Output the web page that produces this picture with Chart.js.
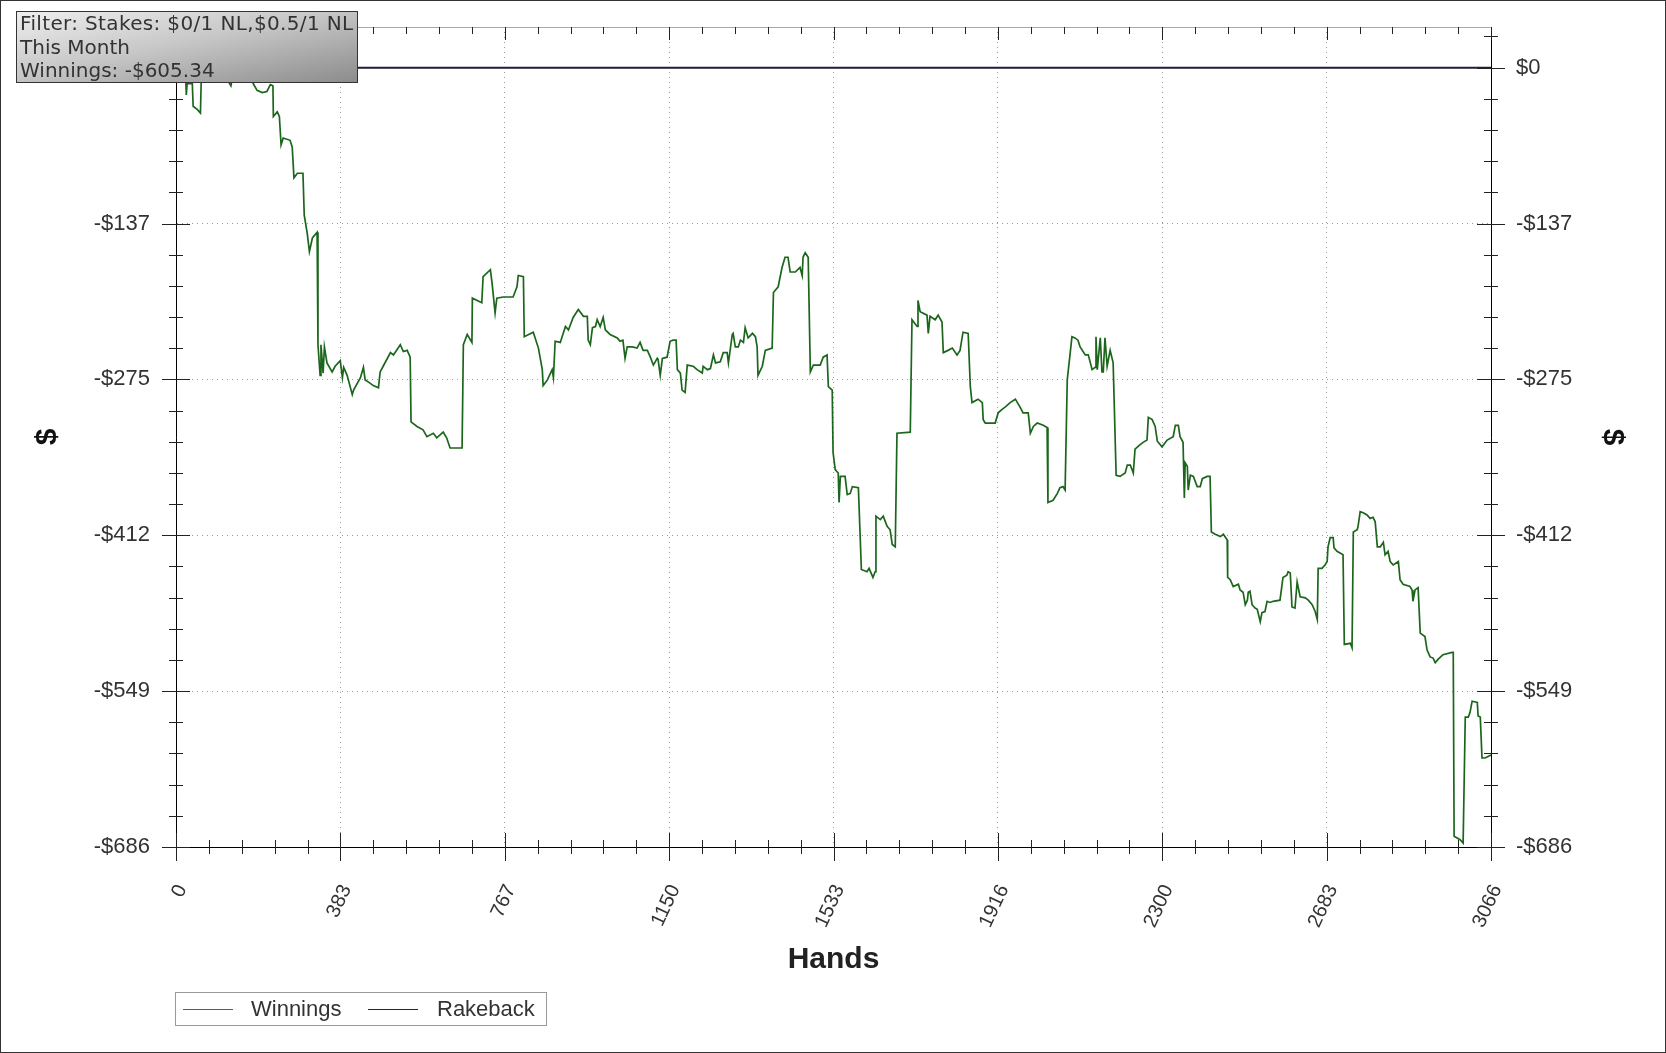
<!DOCTYPE html>
<html lang="en">
<head>
    <meta charset="UTF-8">
    <title>Winnings Graph</title>
    <script src="https://cdn.jsdelivr.net/npm/chart.js"></script>
    <style>
        body { margin: 0; background: #fff; }
        #wrap { position: relative; width: 1666px; height: 1053px; border: 1px solid #333; box-sizing: border-box; background: #fff; }
        #graph { position: absolute; left: 0; top: 0; }
        #info {
            position: absolute; left: 15px; top: 10px; width: 342px; height: 72px; box-sizing: border-box;
            border: 1px solid #333; padding: 0 0 0 3px;
            background: linear-gradient(to bottom right, #eeeeee 0%, #c8c8c8 45%, #8c8c8c 100%);
            font: 20px "DejaVu Sans", sans-serif; line-height: 23.5px; color: #333; white-space: nowrap;
        }
        #info .wide { letter-spacing: 0.35px; }
        #legend {
            position: absolute; left: 174px; top: 991px; width: 372px; height: 34px; box-sizing: border-box;
            border: 1px solid #999; font: 22px "Liberation Sans", Arial, sans-serif; color: #333;
        }
        #legend span { position: absolute; top: 3px; }
        #legend i { position: absolute; top: 16px; height: 0; border-top: 1.5px solid; width: 50px; }
    </style>
</head>
<body>
<div id="wrap">
    <canvas id="graph" width="1664" height="1051"></canvas>
    <div id="info"><span class="wide">Filter: Stakes: $0/1 NL,$0.5/1 NL</span><br>This Month<br>Winnings: -$605.34</div>
    <div id="legend">
        <i style="left:7px;border-color:#2f7a2f"></i><span style="left:75px">Winnings</span>
        <i style="left:192px;border-color:#1c1c6e"></i><span style="left:261px">Rakeback</span>
    </div>
</div>
<script>
// hand numbers and cumulative winnings ($)
const hands = [
    0, 20, 23, 24, 26, 38, 40, 50, 57, 59,
    80, 100, 122, 128, 131, 150, 175, 180, 189, 201,
    212, 220, 226, 227, 236, 241, 245, 250, 266, 271,
    275, 283, 296, 299, 306, 311, 318, 329, 331, 336,
    338, 343, 346, 352, 364, 371, 383, 388, 391, 399,
    411, 414, 430, 437, 441, 449, 460, 472, 476, 483,
    500, 507, 523, 530, 539, 546, 548, 562, 576, 585,
    600, 608, 623, 631, 639, 667, 670, 679, 690, 691,
    713, 716, 733, 737, 744, 748, 763, 786, 795, 798,
    810, 812, 833, 845, 854, 856, 866, 877, 880, 884,
    896, 908, 915, 926, 938, 950, 959, 961, 966, 971,
    978, 982, 989, 996, 1001, 1012, 1029, 1035, 1042, 1047,
    1052, 1064, 1075, 1082, 1089, 1099, 1106, 1113, 1122, 1124,
    1129, 1134, 1145, 1152, 1159, 1166, 1169, 1176, 1180, 1187,
    1192, 1206, 1215, 1227, 1229, 1239, 1246, 1253, 1258, 1269,
    1276, 1285, 1288, 1297, 1299, 1304, 1311, 1316, 1323, 1327,
    1334, 1344, 1351, 1355, 1357, 1367, 1374, 1390, 1393, 1404,
    1413, 1420, 1427, 1432, 1444, 1455, 1460, 1462, 1467, 1474,
    1479, 1486, 1502, 1509, 1518, 1521, 1530, 1532, 1537, 1544,
    1546, 1549, 1560, 1565, 1572, 1577, 1591, 1598, 1611, 1616,
    1625, 1630, 1632, 1642, 1649, 1658, 1665, 1670, 1677, 1681,
    1712, 1716, 1728, 1730, 1735, 1751, 1754, 1758, 1770, 1777,
    1786, 1789, 1800, 1810, 1821, 1828, 1835, 1847, 1852, 1856,
    1870, 1880, 1882, 1887, 1910, 1917, 1926, 1933, 1945, 1957,
    1968, 1975, 1987, 1992, 1999, 2008, 2022, 2031, 2033, 2045,
    2055, 2061, 2068, 2073, 2078, 2089, 2096, 2103, 2108, 2120,
    2127, 2136, 2143, 2145, 2148, 2155, 2159, 2162, 2166, 2171,
    2178, 2185, 2192, 2201, 2213, 2218, 2225, 2232, 2236, 2248,
    2255, 2264, 2267, 2276, 2283, 2288, 2299, 2311, 2325, 2330,
    2337, 2341, 2348, 2351, 2353, 2358, 2360, 2365, 2372, 2381,
    2388, 2393, 2404, 2411, 2414, 2423, 2435, 2442, 2451, 2452,
    2458, 2465, 2477, 2481, 2488, 2493, 2498, 2500, 2504, 2509,
    2516, 2521, 2528, 2532, 2539, 2544, 2551, 2558, 2574, 2581,
    2590, 2593, 2598, 2602, 2609, 2614, 2621, 2633, 2640, 2649,
    2656, 2661, 2663, 2672, 2679, 2684, 2686, 2691, 2698, 2700,
    2707, 2721, 2724, 2738, 2742, 2745, 2754, 2756, 2761, 2768,
    2777, 2784, 2791, 2796, 2801, 2808, 2815, 2819, 2826, 2831,
    2838, 2850, 2854, 2861, 2877, 2882, 2884, 2889, 2896, 2901,
    2912, 2917, 2924, 2931, 2936, 2943, 2954, 2975, 2978, 2980,
    2994, 3001, 3006, 3013, 3017, 3022, 3034, 3036, 3041, 3045,
    3052, 3066
];
const winnings = [
    -8, -8, -12, -24, -14, -14, -34, -37, -40, -8,
    -4, -6, -12, -16, -10, -6, -8, -14, -20, -22,
    -21, -15, -16, -43, -39, -43, -68, -62, -64, -70,
    -97, -93, -93, -130, -146, -162, -150, -145, -244, -271,
    -244, -269, -246, -260, -268, -263, -258, -273, -264, -271,
    -288, -284, -273, -264, -275, -277, -280, -282, -268, -263,
    -251, -253, -244, -250, -249, -255, -312, -316, -319, -325,
    -322, -326, -321, -326, -335, -335, -244, -235, -242, -203,
    -207, -184, -178, -190, -216, -203, -202, -202, -193, -183,
    -184, -237, -233, -247, -266, -280, -275, -266, -273, -241,
    -242, -228, -231, -220, -213, -219, -219, -240, -244, -229,
    -228, -222, -228, -220, -231, -235, -238, -241, -240, -256,
    -246, -246, -247, -242, -249, -249, -255, -262, -256, -257,
    -271, -256, -255, -241, -240, -240, -266, -269, -284, -286,
    -262, -263, -266, -269, -263, -266, -265, -253, -260, -259,
    -251, -251, -260, -235, -234, -246, -246, -240, -242, -229,
    -238, -234, -237, -246, -271, -263, -249, -247, -198, -193,
    -176, -167, -167, -180, -180, -176, -183, -167, -163, -167,
    -268, -262, -262, -255, -253, -281, -284, -339, -354, -357,
    -383, -360, -360, -376, -375, -369, -370, -442, -444, -441,
    -449, -444, -395, -398, -395, -404, -407, -420, -422, -322,
    -321, -222, -228, -205, -215, -218, -234, -219, -222, -218,
    -224, -251, -249, -247, -253, -249, -233, -234, -281, -295,
    -292, -295, -310, -313, -313, -304, -301, -299, -295, -292,
    -299, -304, -304, -322, -316, -313, -315, -317, -383, -381,
    -375, -370, -369, -372, -275, -237, -238, -240, -246, -253,
    -253, -266, -264, -237, -266, -238, -268, -268, -238, -263,
    -249, -260, -359, -360, -357, -350, -350, -357, -336, -332,
    -330, -328, -308, -310, -316, -329, -334, -328, -325, -315,
    -315, -325, -330, -379, -348, -351, -372, -359, -360, -369,
    -369, -362, -360, -360, -409, -411, -413, -411, -416, -449,
    -451, -457, -455, -460, -462, -473, -469, -462, -461, -473,
    -476, -477, -488, -480, -479, -470, -471, -470, -469, -449,
    -447, -444, -445, -475, -476, -453, -466, -467, -469, -473,
    -479, -486, -441, -441, -438, -435, -422, -414, -414, -423,
    -426, -429, -508, -507, -511, -409, -407, -404, -391, -392,
    -394, -397, -396, -400, -422, -422, -418, -429, -426, -435,
    -438, -435, -451, -455, -457, -460, -470, -460, -458, -498,
    -501, -513, -519, -520, -524, -521, -517, -515, -515, -677,
    -680, -683, -572, -572, -568, -558, -559, -571, -572, -608,
    -608, -605.34
];
// rakeback stays at zero for the whole month
const rakebackHands = [0, 3066];
const rakeback = [0, 0];

// axis ticks
const xTickValues = [0, 383.25, 766.5, 1149.75, 1533, 1916.25, 2299.5, 2682.75, 3066];
const xTickLabels = ['0', '383', '767', '1150', '1533', '1916', '2300', '2683', '3066'];
const yTickValues = [0, -137.28, -274.56, -411.84, -549.12, -686.4];
const yTickLabels = ['$0', '-$137', '-$275', '-$412', '-$549', '-$686'];

const xMin = 0, xMax = 3066, yMin = -686.4, yMax = 35.8;
const TEXT = '#333';

function setY(scale) {
    scale.ticks = yTickValues.map(v => ({ value: v }));
}
// fixed box sizes, no extra label padding pushed into the layout
function fixBox(size) {
    return s => {
        if (s.isHorizontal()) s.height = size; else s.width = size;
        s.paddingTop = s.paddingBottom = s.paddingLeft = s.paddingRight = 0;
    };
}

// tick marks (major + 4 minor) crossing the axes, and the grey top border
const tickMarks = {
    id: 'tickMarks',
    afterDraw(chart) {
        const ctx = chart.ctx;
        const a = chart.chartArea;
        const xs = chart.scales.x, ys = chart.scales.y;
        ctx.save();
        ctx.lineWidth = 1;
        ctx.strokeStyle = '#aaa';
        ctx.beginPath();
        ctx.moveTo(a.left, a.top + 0.5);
        ctx.lineTo(a.right, a.top + 0.5);
        ctx.stroke();
        ctx.strokeStyle = '#222';
        ctx.beginPath();
        for (let i = 0; i <= 40; i++) {
            const px = Math.round(xs.getPixelForValue(i * 383.25 / 5)) + 0.5;
            const len = i % 5 === 0 ? 14 : 7;
            ctx.moveTo(px, a.bottom - len);
            ctx.lineTo(px, a.bottom + len);
            ctx.moveTo(px, a.top);
            ctx.lineTo(px, a.top + (i % 5 === 0 ? 13 : 7));
        }
        for (let k = -25; k <= 1; k++) {
            const py = Math.round(ys.getPixelForValue(k * 137.28 / 5)) + 0.5;
            const len = k % 5 === 0 ? 14 : 7;
            ctx.moveTo(a.left - len, py);
            ctx.lineTo(a.left + len, py);
            ctx.moveTo(a.right - len, py);
            ctx.lineTo(a.right + len, py);
        }
        ctx.stroke();
        ctx.restore();
    }
};

const ctx = document.getElementById('graph').getContext('2d');
new Chart(ctx, {
    type: 'line',
    data: {
        datasets: [
            {
                label: 'Rakeback',
                data: rakebackHands.map((h, i) => ({ x: h, y: rakeback[i] })),
                borderColor: '#1e1e3c',
                borderWidth: 2,
                pointRadius: 0,
                fill: false
            },
            {
                label: 'Winnings',
                data: hands.map((h, i) => ({ x: h, y: winnings[i] })),
                borderColor: '#1c661c',
                borderWidth: 1.7,
                pointRadius: 0,
                tension: 0,
                fill: false
            }
        ]
    },
    options: {
        responsive: false,
        animation: false,
        devicePixelRatio: 1,
        layout: { padding: { top: 26, left: 0, right: 0, bottom: 0 } },
        plugins: { legend: { display: false }, tooltip: { enabled: false } },
        scales: {
            x: {
                type: 'linear',
                min: xMin,
                max: xMax,
                afterBuildTicks: s => { s.ticks = xTickValues.map(v => ({ value: v })); },
                afterFit: fixBox(205),
                grid: { color: '#9a9a9a', drawTicks: false },
                border: { color: '#000', width: 1, dash: [1, 4] },
                ticks: {
                    autoSkip: false,
                    maxRotation: 65,
                    minRotation: 65,
                    padding: 34,
                    labelOffset: 6,
                    color: TEXT,
                    font: { family: 'Liberation Sans, Arial', size: 20 },
                    callback: (v, i) => xTickLabels[i]
                },
                title: {
                    display: true,
                    text: 'Hands',
                    color: '#222',
                    font: { family: 'Liberation Sans, Arial', size: 30, weight: 'bold' },
                    padding: { bottom: 74, top: 0 }
                }
            },
            y: {
                position: 'left',
                min: yMin,
                max: yMax,
                afterBuildTicks: setY,
                afterFit: fixBox(175),
                grid: { color: '#9a9a9a', drawTicks: false },
                border: { color: '#000', width: 1, dash: [1, 4] },
                ticks: {
                    padding: 26,
                    color: TEXT,
                    font: { family: 'Liberation Sans, Arial', size: 22 },
                    callback: (v, i) => yTickLabels[i]
                },
                title: {
                    display: true,
                    text: '$',
                    color: '#111',
                    font: { family: 'Liberation Sans, Arial', size: 30, weight: 'bold' },
                    padding: { top: 29, bottom: 0 }
                }
            },
            y2: {
                position: 'right',
                min: yMin,
                max: yMax,
                afterBuildTicks: setY,
                afterFit: fixBox(174),
                grid: { drawOnChartArea: false, drawTicks: false },
                border: { color: '#000', width: 1 },
                ticks: {
                    padding: 25,
                    color: TEXT,
                    font: { family: 'Liberation Sans, Arial', size: 22 },
                    callback: (v, i) => yTickLabels[i]
                },
                title: {
                    display: true,
                    text: '$',
                    color: '#111',
                    font: { family: 'Liberation Sans, Arial', size: 30, weight: 'bold' },
                    padding: { top: 35, bottom: 0 }
                }
            }
        }
    },
    plugins: [tickMarks]
});
</script>
</body>
</html>
